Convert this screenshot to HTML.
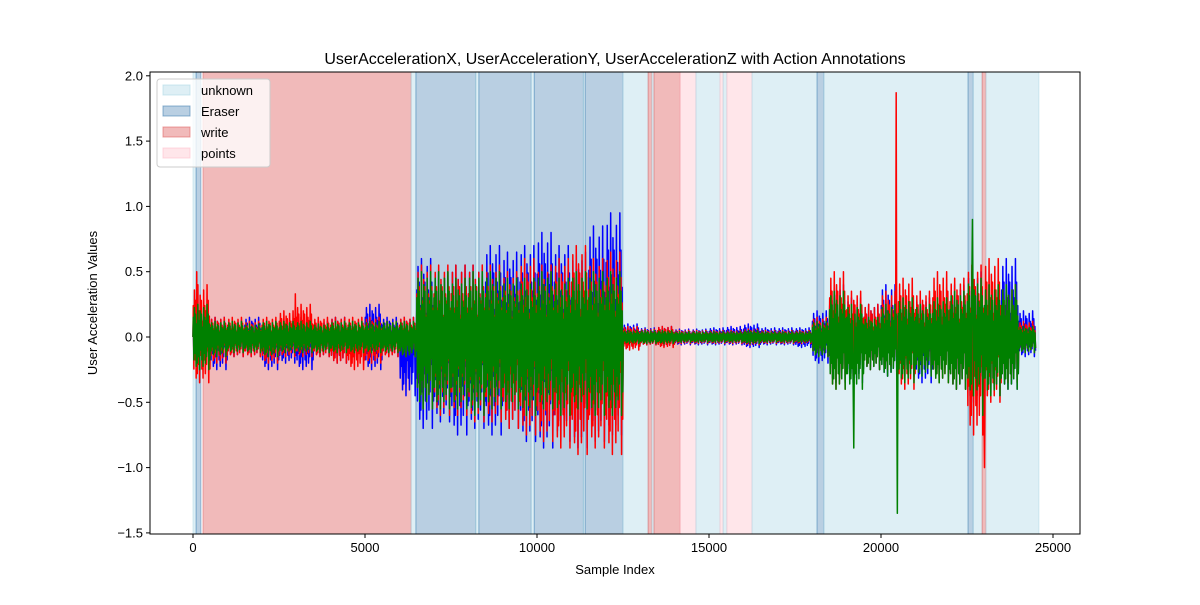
<!DOCTYPE html>
<html><head><meta charset="utf-8"><style>
body{margin:0;background:#fff;font-family:"Liberation Sans","DejaVu Sans",sans-serif}
</style></head><body>
<svg id="chart" width="1200" height="600" xmlns="http://www.w3.org/2000/svg" font-family="Liberation Sans, DejaVu Sans, sans-serif">
<rect width="1200" height="600" fill="#fff"/>
<g id="spans"></g>
<g id="lines"></g>
<g id="axes"></g>
</svg>
<script>
const spanStarts=[0,90,290,6340,6480,8220,8310,9830,9920,11350,11400,12500,13230,13340,13400,14160,14620,15320,15410,15520,16250,18140,18340,22530,22680,22940,23050];
const spanEnds=[90,230,6340,6480,8220,8310,9830,9920,11350,11400,12500,13230,13340,13400,14160,14620,15320,15410,15520,16250,18140,18340,22530,22680,22940,23050,24590];
const spanLabels=["unknown","Eraser","write","unknown","Eraser","unknown","Eraser","unknown","Eraser","unknown","Eraser","unknown","write","unknown","write","points","unknown","points","unknown","points","unknown","Eraser","unknown","Eraser","unknown","write","unknown"];
const binSize=500;
const blueMax=[0.2,0.15,0.12,0.15,0.12,0.12,0.15,0.12,0.15,0.12,0.25,0.15,0.15,0.6,0.5,0.55,0.55,0.7,0.65,0.7,0.8,0.7,0.65,0.85,0.95,0.1,0.07,0.08,0.06,0.06,0.07,0.08,0.1,0.07,0.07,0.07,0.2,0.4,0.3,0.25,0.4,0.3,0.3,0.3,0.4,0.5,0.4,0.6,0.2];
const blueMin=[-0.2,-0.25,-0.15,-0.15,-0.25,-0.2,-0.25,-0.15,-0.2,-0.15,-0.25,-0.15,-0.45,-0.7,-0.65,-0.75,-0.7,-0.75,-0.7,-0.8,-0.85,-0.8,-0.85,-0.8,-0.75,-0.08,-0.06,-0.07,-0.06,-0.06,-0.06,-0.06,-0.08,-0.06,-0.06,-0.08,-0.2,-0.35,-0.35,-0.25,-0.3,-0.3,-0.35,-0.3,-0.4,-0.5,-0.45,-0.4,-0.15];
const redMax=[0.4,0.15,0.15,0.12,0.15,0.2,0.25,0.15,0.15,0.15,0.15,0.12,0.15,0.55,0.55,0.55,0.55,0.55,0.5,0.6,0.55,0.6,0.7,0.6,0.65,0.08,0.06,0.08,0.05,0.05,0.05,0.05,0.06,0.05,0.05,0.05,0.15,0.5,0.35,0.25,0.35,0.45,0.35,0.5,0.45,0.55,0.6,0.4,0.12];
const redMin=[-0.35,-0.2,-0.15,-0.15,-0.2,-0.15,-0.15,-0.15,-0.2,-0.25,-0.2,-0.15,-0.15,-0.55,-0.6,-0.6,-0.65,-0.65,-0.7,-0.75,-0.8,-0.85,-0.9,-0.85,-0.9,-0.1,-0.06,-0.08,-0.05,-0.05,-0.05,-0.05,-0.06,-0.05,-0.05,-0.05,-0.15,-0.4,-0.3,-0.25,-0.25,-0.4,-0.25,-0.35,-0.4,-0.75,-0.5,-0.35,-0.12];
const greenMax=[0.25,0.12,0.12,0.1,0.12,0.12,0.12,0.1,0.12,0.12,0.12,0.12,0.12,0.5,0.5,0.45,0.5,0.5,0.45,0.45,0.5,0.45,0.5,0.5,0.5,0.05,0.05,0.05,0.04,0.04,0.04,0.04,0.05,0.04,0.04,0.04,0.12,0.35,0.25,0.15,0.25,0.3,0.25,0.3,0.35,0.45,0.4,0.4,0.08];
const greenMin=[-0.25,-0.15,-0.12,-0.12,-0.15,-0.12,-0.12,-0.12,-0.12,-0.12,-0.12,-0.12,-0.15,-0.55,-0.55,-0.55,-0.6,-0.55,-0.55,-0.6,-0.55,-0.6,-0.55,-0.6,-0.6,-0.05,-0.05,-0.05,-0.04,-0.04,-0.04,-0.04,-0.05,-0.04,-0.04,-0.04,-0.15,-0.4,-0.4,-0.25,-0.3,-0.35,-0.3,-0.35,-0.4,-0.45,-0.45,-0.4,-0.12];
const spikeIndex=[20440,20460,19200,22650,23000,22950,100,2960];
const spikeValue=[1.87,-1.35,-0.85,0.9,-1.0,-0.6,0.5,0.33];
const spikeSeries=["red","green","green","green","red","green","red","red"];
const xTicks=[0,5000,10000,15000,20000,25000];
const yTicks=[-1.5,-1.0,-0.5,0.0,0.5,1.0,1.5,2.0];

const NS="http://www.w3.org/2000/svg";
const L=150,R=1080,T=72,B=534;
const xs=v=>193+v*0.0344;
const ys=v=>337-v*130.6;
function mk(tag,attrs,parent){const e=document.createElementNS(NS,tag);for(const k in attrs)e.setAttribute(k,attrs[k]);parent.appendChild(e);return e;}
const spanColor={unknown:["#add8e6",0.4],Eraser:["#4682b4",0.38],write:["#e06666",0.45],points:["#ffc0cb",0.4]};
const sg=document.getElementById('spans');
for(let i=0;i<spanStarts.length;i++){
  const c=spanColor[spanLabels[i]];
  const r=mk('rect',{x:xs(spanStarts[i]),y:T,width:Math.max(0.5,xs(spanEnds[i])-xs(spanStarts[i])),height:B-T,fill:c[0],'fill-opacity':c[1],stroke:c[0],'stroke-opacity':0.5,'stroke-width':1},sg);
  
  
}
const pattern=[0.6,-0.7,0.9,-0.5,0.7,-0.9,0.4,-0.8,1,-0.6,0.5,-1,0.8,-0.4,0.7,-0.7,0.3,-0.9,0.9,-0.5,0.6,-0.8,0.5,-0.6,1,-0.3,0.7,-1,0.4,-0.7];
const lg=document.getElementById('lines');
const colors={blue:'#0000ff',red:'#ff0000',green:'#008000'};
function series(mx,mn,key,name){
  const pts=[];
  for(let b=0;b<mx.length;b++){
    for(let k=0;k<pattern.length;k++){
      const p=pattern[k];
      const v=p>=0?p*mx[b]:-p*mn[b];
      pts.push([b*binSize+(k+0.5)*binSize/pattern.length,v]);
    }
  }
  for(let s=0;s<spikeIndex.length;s++){
    if(spikeSeries[s]!==key)continue;
    let j=pts.findIndex(p=>p[0]>=spikeIndex[s]);
    if(j>=0)pts[j]=[pts[j][0],spikeValue[s]];
  }
  let d='M'+xs(0)+','+ys(0);
  pts.forEach(p=>{d+='L'+xs(p[0]).toFixed(2)+','+ys(p[1]).toFixed(2);});
  const e=mk('path',{d:d,fill:'none',stroke:colors[key],'stroke-width':1.5,'stroke-linejoin':'round'},lg);
  
  
}
series(blueMax,blueMin,'blue','series-user-acceleration-x');
series(redMax,redMin,'red','series-user-acceleration-y');
series(greenMax,greenMin,'green','series-user-acceleration-z');

const ag=document.getElementById('axes');
let fr=mk('rect',{x:L,y:T,width:R-L,height:B-T,fill:'none',stroke:'#000','stroke-width':1},ag);

xTicks.forEach(v=>{const x=xs(v);mk('line',{x1:x,x2:x,y1:B,y2:B+4,stroke:'#000'},ag);
  const t=mk('text',{x:x,y:B+18,'font-size':13,'text-anchor':'middle'},ag);t.textContent=v;
  });
yTicks.forEach(v=>{const y=ys(v);mk('line',{x1:L-4,x2:L,y1:y,y2:y,stroke:'#000'},ag);
  const t=mk('text',{x:L-7,y:y+4.5,'font-size':13,'text-anchor':'end'},ag);t.textContent=v.toFixed(1).replace('-','\u2212');
  });
let t=mk('text',{x:615,y:64,'font-size':16,'text-anchor':'middle'},ag);t.textContent='UserAccelerationX, UserAccelerationY, UserAccelerationZ with Action Annotations';

t=mk('text',{x:615,y:574,'font-size':13,'text-anchor':'middle'},ag);t.textContent='Sample Index';

t=mk('text',{x:97,y:303,'font-size':13,'text-anchor':'middle',transform:'rotate(-90 97 303)'},ag);t.textContent='User Acceleration Values';

const lgd=mk('g',{},ag);

mk('rect',{x:157,y:79,width:113,height:88,rx:3,fill:'#fff','fill-opacity':0.8,stroke:'#ccc'},lgd);
["unknown","Eraser","write","points"].forEach((n,i)=>{
  const c=spanColor[n];const y=84+i*21;
  const g=mk('g',{},lgd);
  
  
  mk('rect',{x:163,y:y+1,width:27,height:10,fill:c[0],'fill-opacity':c[1],stroke:c[0],'stroke-opacity':0.6},g);
  const tt=mk('text',{x:201,y:y+11,'font-size':13},g);tt.textContent=n;
});
</script>
</body></html>
